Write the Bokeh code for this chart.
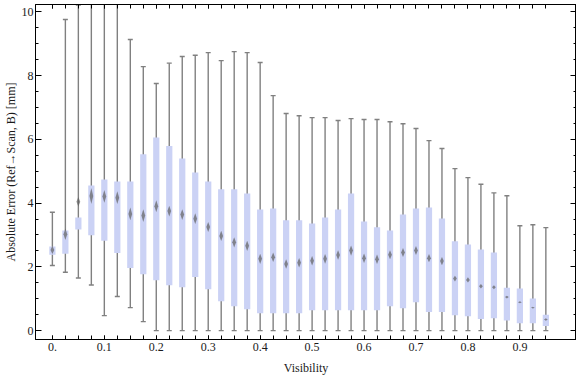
from bokeh.plotting import figure
from bokeh.models import Range1d, FixedTicker, LinearAxis, ColumnDataSource
from bokeh.embed import file_html
from bokeh.resources import INLINE

# ---- data ----
visibility = [0.0, 0.025, 0.05, 0.075, 0.1, 0.125, 0.15, 0.175, 0.2, 0.225,
              0.25, 0.275, 0.3, 0.325, 0.35, 0.375, 0.4, 0.425, 0.45, 0.475,
              0.5, 0.525, 0.55, 0.575, 0.6, 0.625, 0.65, 0.675, 0.7, 0.725,
              0.75, 0.775, 0.8, 0.825, 0.85, 0.875, 0.9, 0.925, 0.95]
whisker_lo = [2.04, 1.83, 1.65, 1.43, 0.47, 1.07, 0.72, 0.28, 0.0, 0.0,
              0.0, 0.0, 0.0, 0.0, 0.0, 0.0, 0.0, 0.0, 0.0, 0.0,
              0.0, 0.0, 0.0, 0.0, 0.0, 0.0, 0.0, 0.0, 0.0, 0.0,
              0.0, 0.0, 0.0, 0.0, 0.0, 0.0, 0.0, 0.0, 0.0]
q1 = [2.38, 2.41, 3.17, 2.99, 2.82, 2.43, 1.96, 1.77, 1.58, 1.42,
      1.36, 1.68, 1.30, 0.92, 0.76, 0.67, 0.54, 0.54, 0.54, 0.54,
      0.64, 0.64, 0.64, 0.64, 0.64, 0.64, 0.76, 0.70, 0.89, 0.58,
      0.58, 0.48, 0.45, 0.36, 0.39, 0.32, 0.23, 0.23, 0.14]
mean = [2.53, 3.02, 4.04, 4.22, 4.21, 4.17, 3.66, 3.61, 3.90, 3.75,
        3.64, 3.51, 3.25, 2.97, 2.77, 2.66, 2.25, 2.30, 2.09, 2.13,
        2.19, 2.25, 2.37, 2.51, 2.27, 2.24, 2.38, 2.45, 2.51, 2.27,
        2.18, 1.63, 1.59, 1.39, 1.36, 1.05, 0.89, 0.72, 0.35]
q3 = [2.64, 3.14, 3.55, 4.55, 4.74, 4.68, 4.68, 5.53, 6.06, 5.79,
      5.40, 4.96, 4.68, 4.43, 4.43, 4.30, 3.80, 3.83, 3.46, 3.46,
      3.36, 3.55, 3.80, 4.30, 3.42, 3.24, 3.14, 3.64, 3.83, 3.86,
      3.52, 2.80, 2.70, 2.54, 2.45, 1.34, 1.32, 1.01, 0.50]
whisker_hi = [3.71, 9.76, 10.21, 10.40, 10.26, 10.26, 9.13, 8.28, 7.75, 8.39,
              8.60, 8.64, 8.72, 8.47, 8.75, 8.72, 8.41, 7.37, 6.81, 6.74,
              6.68, 6.68, 6.59, 6.65, 6.62, 6.62, 6.55, 6.49, 6.34, 5.96,
              5.71, 5.08, 4.80, 4.59, 4.32, 4.23, 3.29, 3.32, 3.23]
mean_ci = [0.13, 0.18, 0.15, 0.25, 0.20, 0.20, 0.20, 0.20, 0.19, 0.17,
           0.17, 0.17, 0.16, 0.16, 0.16, 0.16, 0.16, 0.15, 0.15, 0.15,
           0.15, 0.15, 0.15, 0.16, 0.15, 0.15, 0.14, 0.14, 0.14, 0.13,
           0.13, 0.09, 0.08, 0.07, 0.06, 0.04, 0.03, 0.03, 0.04]

x_ticks = [0.0, 0.1, 0.2, 0.3, 0.4, 0.5, 0.6, 0.7, 0.8, 0.9]
x_tick_labels = ["0.", "0.1", "0.2", "0.3", "0.4", "0.5", "0.6", "0.7", "0.8", "0.9"]
y_ticks = [0, 2, 4, 6, 8, 10]
y_tick_labels = ["0", "2", "4", "6", "8", "10"]
y_minor_ticks = [0, 0.5, 1, 1.5, 2, 2.5, 3, 3.5, 4, 4.5, 5, 5.5, 6, 6.5, 7, 7.5,
                 8, 8.5, 9, 9.5, 10]

# ---- styles ----
FONT = "Liberation Serif"
BOX_COLOR = "#cbd2f5"
WHISKER_COLOR = "#808080"
DIAMOND_COLOR = "#606060"
BOX_W = 0.012
DIAMOND_HW = 0.0036

src = ColumnDataSource(dict(x=visibility, lo=whisker_lo, q1=q1, q3=q3, hi=whisker_hi))

p = figure(width=576, height=377, x_range=Range1d(-0.0325, 1.009),
           y_range=Range1d(-0.28, 10.23), output_backend="svg",
           toolbar_location=None, min_border_top=4, min_border_right=0,
           min_border_left=30, min_border_bottom=0)
p.background_fill_color = "white"
p.border_fill_color = "white"
p.xgrid.visible = False
p.ygrid.visible = False
p.outline_line_color = "black"
p.outline_line_width = 1

# whiskers
p.segment(x0="x", y0="lo", x1="x", y1="hi", source=src, line_color=WHISKER_COLOR, line_width=1.4)
p.scatter(x="x", y="lo", source=src, marker="dash", size=5, line_color=WHISKER_COLOR, line_width=1.4)
p.scatter(x="x", y="hi", source=src, marker="dash", size=5, line_color=WHISKER_COLOR, line_width=1.4)
# boxes
p.vbar(x="x", bottom="q1", top="q3", width=BOX_W, source=src, fill_color=BOX_COLOR, line_color=None)
# mean diamonds
dxs = [[v - DIAMOND_HW, v, v + DIAMOND_HW, v] for v in visibility]
dys = [[m, m + c, m, m - c] for m, c in zip(mean, mean_ci)]
p.patches(xs=dxs, ys=dys, fill_color=DIAMOND_COLOR, fill_alpha=0.7, line_color=None)

# bottom axis
xa = p.xaxis[0]
xa.ticker = FixedTicker(ticks=x_ticks, minor_ticks=visibility)
xa.major_label_overrides = dict(zip(x_ticks, x_tick_labels))
xa.axis_label = "Visibility"
# left axis
ya = p.yaxis[0]
ya.ticker = FixedTicker(ticks=y_ticks, minor_ticks=y_minor_ticks)
ya.major_label_overrides = dict(zip(y_ticks, y_tick_labels))
ya.axis_label = "Absolute Error (Ref\u2192Scan, B) [mm]"

top = LinearAxis(ticker=FixedTicker(ticks=x_ticks, minor_ticks=visibility))
right = LinearAxis(ticker=FixedTicker(ticks=y_ticks, minor_ticks=y_minor_ticks))
p.add_layout(top, "above")
p.add_layout(right, "right")

for ax in (xa, top):
    ax.major_tick_in = 4
    ax.major_tick_out = 0
    ax.minor_tick_in = 4
    ax.minor_tick_out = 0
for ax in (ya, right):
    ax.major_tick_in = 6
    ax.major_tick_out = 0
    ax.minor_tick_in = 3
    ax.minor_tick_out = 0
for ax in (xa, ya, top, right):
    ax.axis_line_color = "black"
    ax.major_tick_line_color = "black"
    ax.minor_tick_line_color = "black"
    ax.major_label_text_font = FONT
    ax.major_label_text_font_size = "12px"
    ax.major_label_text_color = "#1a1a1a"
    ax.axis_label_text_font = FONT
    ax.axis_label_text_font_size = "12px"
    ax.axis_label_text_font_style = "normal"
    ax.axis_label_text_color = "#1a1a1a"
for ax in (top, right):
    ax.major_label_text_font_size = "0px"
    ax.major_label_text_color = None
    ax.major_label_standoff = 0
    ax.axis_label_standoff = 0
xa.major_label_standoff = 3
xa.axis_label_standoff = 7
ya.major_label_standoff = 2
ya.axis_label_standoff = 1

open("out.html", "w").write(file_html(p, INLINE))
